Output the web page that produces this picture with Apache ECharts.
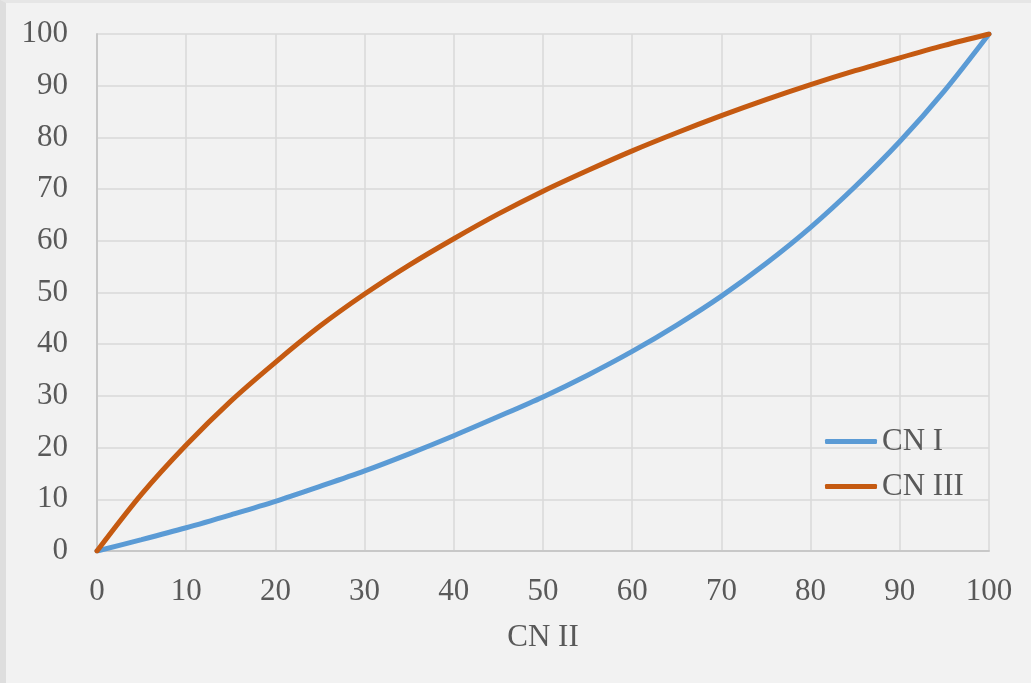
<!DOCTYPE html>
<html>
<head>
<meta charset="utf-8">
<script src="https://cdn.jsdelivr.net/npm/echarts@6/dist/echarts.min.js"></script>
<style>
  html, body { margin: 0; padding: 0; background: #f2f2f2; }
  #frame { width: 1031px; height: 683px; box-sizing: border-box;
           border-left: 6px solid #dedede; border-top: 3px solid #e6e6e6; position: relative; }
  #chart { position: absolute; left: -6px; top: -3px; width: 1031px; height: 683px; }
</style>
</head>
<body>
<div id="frame"><div id="chart"></div></div>
<script>
// CN II on the horizontal axis
const cnII = [0, 5, 10, 15, 20, 25, 30, 35, 40, 45, 50, 55, 60, 65, 70, 75, 80, 85, 90, 95, 100];
// dry condition
const cnI = [0, 2.2, 4.5, 7.0, 9.6, 12.5, 15.5, 18.8, 22.3, 26.0, 29.8, 34.0, 38.6, 43.7, 49.3, 55.6, 62.6, 70.5, 79.2, 89.0, 100];
// wet condition
const cnIII = [0, 11.0, 20.5, 29.0, 36.5, 43.5, 49.7, 55.3, 60.4, 65.2, 69.6, 73.6, 77.4, 80.9, 84.2, 87.3, 90.2, 92.9, 95.4, 97.8, 100];
const seriesNames = ['CN I', 'CN III'];
const axisTitle = 'CN II';

const font = '"Liberation Serif", "DejaVu Serif", serif';
const textColor = '#595959';
const fontSize = 31;
const pairs = (ys) => cnII.map((x, i) => [x, ys[i]]);

const chart = echarts.init(document.getElementById('chart'), null, { renderer: 'canvas' });
chart.setOption({
  backgroundColor: 'transparent',
  animation: false,
  grid: { left: 97, top: 34, right: 42, bottom: 132 },
  legend: {
    orient: 'vertical',
    left: 820, top: 421,
    itemWidth: 52, itemHeight: 5, itemGap: 14,
    icon: 'roundRect',
    textStyle: { fontFamily: font, fontSize: fontSize, color: textColor, lineHeight: 31 },
    data: seriesNames
  },
  xAxis: {
    type: 'value', min: 0, max: 100, interval: 10,
    name: axisTitle, nameLocation: 'middle', nameGap: 71,
    nameTextStyle: { fontFamily: font, fontSize: fontSize, color: textColor },
    axisLine: { show: true, lineStyle: { color: '#c8c8c8', width: 2 } },
    axisTick: { show: false },
    axisLabel: { fontFamily: font, fontSize: fontSize, color: textColor, margin: 25 },
    splitLine: { show: true, lineStyle: { color: '#d9d9d9', width: 1.5 } }
  },
  yAxis: {
    type: 'value', min: 0, max: 100, interval: 10,
    axisLine: { show: true, lineStyle: { color: '#c8c8c8', width: 2 } },
    axisTick: { show: false },
    axisLabel: { fontFamily: font, fontSize: fontSize, color: textColor, margin: 29 },
    splitLine: { show: true, lineStyle: { color: '#d9d9d9', width: 1.5 } }
  },
  series: [
    { name: seriesNames[0], type: 'line', data: pairs(cnI), smooth: 0.3, symbol: 'none',
      lineStyle: { color: '#5b9bd5', width: 5, cap: 'round' }, itemStyle: { color: '#5b9bd5' } },
    { name: seriesNames[1], type: 'line', data: pairs(cnIII), smooth: 0.3, symbol: 'none',
      lineStyle: { color: '#c55a11', width: 5, cap: 'round' }, itemStyle: { color: '#c55a11' } }
  ]
});
</script>
</body>
</html>
